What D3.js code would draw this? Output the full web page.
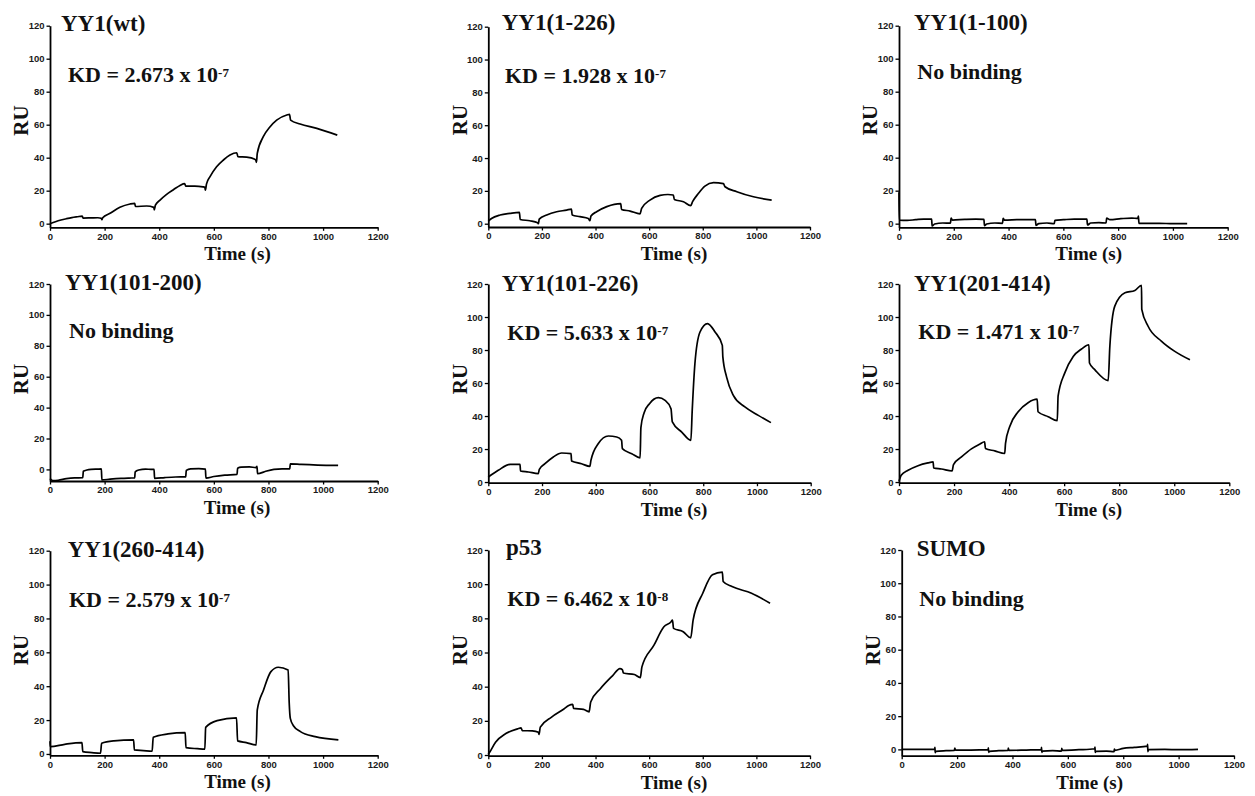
<!DOCTYPE html>
<html>
<head>
<meta charset="utf-8">
<script src="https://cdn.jsdelivr.net/npm/d3@7"></script>
<style>
body { margin: 0; background: #fff; }
</style>
</head>
<body>
<script>
var width = 1255,
    height = 796;

var titles = ["YY1(wt)", "YY1(1-226)", "YY1(1-100)", "YY1(101-200)", "YY1(101-226)",
              "YY1(201-414)", "YY1(260-414)", "p53", "SUMO"];
var notes = [["KD = 2.673 x 10", "-7"], ["KD = 1.928 x 10", "-7"], ["No binding"],
             ["No binding"], ["KD = 5.633 x 10", "-7"], ["KD = 1.471 x 10", "-7"],
             ["KD = 2.579 x 10", "-7"], ["KD = 6.462 x 10", "-8"], ["No binding"]];
var yMins = [-2.2, -2, -2.2, -7.5, -0.4, -0.4, -0.8, -0.4, -3.8];
var xTicks = [0, 200, 400, 600, 800, 1000, 1200];
var yTicks = [0, 20, 40, 60, 80, 100, 120];

// sensorgrams: [time (s), RU]
var wt = [[0,0],[20,1.2],[40,2.2],[60,3.0],[80,3.7],[100,4.2],[118,4.6],[121,3.4],[150,3.5],[175,3.6],[188,3.3],[190,2.4],[193,3.6],[220,6.3],[256,9.9],[293,11.9],[310,12.3],[313,10.4],[354,10.7],[380,9.9],[382,8.4],[386,11.2],[403,14.3],[427,17.8],[452,20.6],[476,23.2],[493,24.3],[497,22.8],[530,22.8],[560,22.3],[567,22],[569,20.3],[573,24],[586,28.5],[610,34.5],[635,38.6],[659,41.6],[684,43],[688,40.6],[720,40.3],[750,39],[754,38.3],[756,37.2],[759,42.6],[781,52.7],[806,58.8],[830,62.8],[867,65.9],[877,66.3],[881,62.8],[916,60.4],[977,57.8],[1052,53.7]];
var yy1_1_226 = [[0,1.6],[12,3.2],[44,5.3],[81,6.3],[116,6.9],[119,2.6],[155,1.8],[184,0.6],[187,0],[190,2.8],[218,5.3],[255,7.3],[292,8.3],[310,8.9],[313,5.3],[342,4.3],[373,3.2],[379,1.8],[383,4.7],[404,7.3],[442,10.4],[470,11.8],[494,12.2],[497,8.7],[529,7.7],[566,6.0],[572,9.3],[603,14.4],[641,17.3],[670,17.8],[690,17.5],[694,14.8],[728,13.4],[755,11.0],[762,13.4],[784,18.5],[808,22.9],[840,25],[877,24.4],[883,22.5],[927,19.5],[989,16.4],[1057,14.4]];
var yy1_1_100 = [[0,19],[1,2.2],[30,2.0],[60,2.4],[90,2.8],[119,2.7],[121,-1.4],[130,-0.2],[160,0.4],[188,0.3],[190,3.4],[195,2.2],[240,2.6],[280,2.8],[310,2.6],[312,-1.2],[320,-0.2],[350,0.4],[378,0.2],[380,3.2],[385,2.2],[430,2.4],[470,2.5],[498,2.5],[500,-1.0],[510,0.0],[540,0.4],[567,0.0],[569,2.0],[600,2.4],[640,2.8],[686,2.8],[688,-0.8],[700,0.4],[730,0.6],[756,0.4],[758,3.4],[770,2.4],[810,3.0],[850,3.4],[872,3.2],[874,4.6],[876,0.2],[950,0.2],[1000,0.0],[1052,0.0]];
var yy1_101_200 = [[0,-6.0],[10,-7.2],[30,-7.0],[60,-6.0],[90,-5.5],[120,-5.4],[122,-1.2],[135,-0.4],[150,0.0],[175,0.2],[188,0.3],[190,-6.8],[220,-6.3],[260,-5.8],[290,-5.6],[310,-5.5],[312,-1.6],[325,-0.4],[350,0.2],[370,0.0],[381,0.0],[383,-5.8],[420,-5.3],[460,-4.9],[497,-4.8],[499,-0.6],[515,0.4],[545,0.5],[569,0.2],[571,-5.6],[600,-4.6],[640,-3.7],[685,-3.2],[687,0.8],[700,1.5],[730,1.6],[755,1.2],[758,2.0],[760,-2.8],[790,-1.2],[820,0.0],[850,0.4],[878,0.4],[880,3.6],[920,3.2],[980,2.8],[1055,2.6]];
var yy1_101_226 = [[0,3.0],[37,7.1],[81,10.7],[118,10.7],[120,6.7],[149,6.1],[186,5.1],[190,7.7],[211,11.1],[242,15.2],[273,17.6],[308,17.2],[310,12.7],[347,11.1],[378,9.5],[382,13.1],[409,23.2],[447,27.9],[478,27.3],[496,25.3],[499,20.2],[534,17.2],[565,14.7],[568,33],[580,42],[600,47.5],[633,51.1],[658,49.5],[680,44.4],[685,36.4],[720,30.3],[754,25.3],[759,43.4],[769,71.7],[788,90.9],[816,96.0],[844,90.9],[871,82.8],[873,75.8],[887,63.6],[912,52.5],[955,45.5],[1005,40.4],[1052,36.0]];
var yy1_201_414 = [[0,0.4],[8,4.1],[33,7.1],[69,9.9],[105,11.6],[124,12.2],[126,8.5],[154,7.9],[193,6.7],[198,10.6],[227,15.2],[263,20.1],[293,22.9],[311,24.4],[314,20.3],[348,18.9],[384,17.3],[387,23.4],[402,33.5],[433,42.6],[469,48.1],[502,50.2],[505,42.6],[542,39.6],[575,37.2],[578,52],[602,66.0],[633,76.1],[663,80.6],[690,83.2],[692,72.1],[712,68.0],[760,61.5],[766,82.2],[784,106.6],[821,114.7],[857,116.1],[881,119.2],[882,104.6],[905,94.4],[954,85.3],[1002,79.2],[1057,74.1]];
var yy1_260_414 = [[0,7.5],[1,4.3],[54,5.7],[117,6.7],[120,1.4],[153,0.8],[185,0.4],[189,6.3],[234,7.7],[306,8.3],[309,2.4],[342,2.0],[374,1.6],[378,9.8],[432,11.8],[495,12.6],[498,3.7],[540,3.1],[567,2.8],[570,15.7],[612,19.7],[683,21.3],[687,7.7],[719,6.7],[755,5.3],[759,26.0],[782,37.8],[809,48.6],[836,51.2],[872,49.6],[876,30],[880,21],[892,16.5],[917,13.2],[971,10.2],[1056,8.3]];
var p53 = [[0,0.4],[5,1.6],[27,7.5],[64,12.4],[109,15.3],[122,15.9],[127,14.3],[164,14.1],[187,13.3],[189,12.0],[194,16.3],[236,22.2],[282,26.9],[300,29.0],[315,29.6],[318,27.3],[355,26.7],[376,25.3],[382,31.0],[418,38.8],[464,46.5],[491,50.6],[500,50.0],[504,48.0],[545,47.1],[567,45.3],[573,51.6],[618,64.3],[655,75.1],[682,78.0],[687,79.0],[691,74.1],[727,72.2],[755,68.6],[764,79.0],[800,94.7],[836,105.5],[873,107.1],[876,101.6],[909,98.6],[982,94.7],[1051,88.8]];
var sumo = [[0,0],[60,0],[119,0],[120,1.2],[121,-2.0],[123,-1.2],[160,-0.8],[190,-0.6],[192,0.8],[194,-0.4],[250,-0.4],[312,-0.2],[313,1.0],[314,-1.8],[316,-1.2],[350,-0.8],[384,-0.6],[385,0.8],[387,-0.6],[450,-0.4],[504,-0.2],[505,1.2],[506,-1.8],[508,-1.0],[545,-0.8],[577,-1.0],[578,0.6],[580,-0.6],[640,-0.2],[697,0.4],[698,1.4],[699,-1.8],[701,-1.2],[740,-1.0],[767,-1.4],[768,0.2],[770,-0.6],[800,0.6],[840,1.2],[887,2.0],[888,3.0],[889,-1.4],[891,-0.2],[950,0.0],[1000,-0.2],[1070,0.0]];

var series = [wt, yy1_1_226, yy1_1_100, yy1_101_200, yy1_101_226,
              yy1_201_414, yy1_260_414, p53, sumo];

// plot box per panel: l/r = x of 0 and 1200 s, t = y of 120 RU, b = x-axis line
// tx,ty title anchor; nx,ny note anchor; ry centre of "RU"; lx centre of "Time (s)"
var layout = [
  {l: 50,    r: 377.7,  t: 25.7,  b: 227.3, tx: 61,    ty: 30.5,  nx: 68,    ny: 82.3,  ry: 120.5, lx: 237.5},
  {l: 488.3, r: 810,    t: 26.7,  b: 227,   tx: 501.7, ty: 29.5,  nx: 505,   ny: 82.7,  ry: 120,   lx: 674},
  {l: 899,   r: 1227.7, t: 25.7,  b: 227.3, tx: 914,   ty: 30,    nx: 917.3, ny: 79.3,  ry: 120,   lx: 1088.7},
  {l: 50,    r: 377.7,  t: 284,   b: 481,   tx: 65,    ty: 290,   nx: 69,    ny: 338.3, ry: 379,   lx: 237},
  {l: 488.3, r: 810.7,  t: 284,   b: 482.7, tx: 501.7, ty: 291,   nx: 507.3, ny: 340,   ry: 379,   lx: 674},
  {l: 899,   r: 1229.3, t: 284,   b: 482.7, tx: 914,   ty: 291,   nx: 918.3, ny: 339,   ry: 379,   lx: 1088.7},
  {l: 50,    r: 377.7,  t: 550.7, b: 755.3, tx: 67.7,  ty: 557,   nx: 69,    ny: 606.7, ry: 650,   lx: 237.5},
  {l: 488.3, r: 810,    t: 550,   b: 755.7, tx: 506,   ty: 555,   nx: 507.3, ny: 606,   ry: 650,   lx: 674},
  {l: 901.7, r: 1234,   t: 550,   b: 755.7, tx: 916.7, ty: 556,   nx: 919.3, ny: 606,   ry: 650,   lx: 1089.7}
];

var serif = "'Liberation Serif', 'Times New Roman', serif",
    sans = "'Liberation Sans', Arial, sans-serif";

var svg = d3.select("body").append("svg")
    .attr("width", width)
    .attr("height", height)
    .style("background", "#fff");

layout.forEach(function(p, i) {
  var x = d3.scaleLinear().domain([0, 1200]).range([p.l, p.r]),
      y = d3.scaleLinear().domain([yMins[i], 120]).range([p.b, p.t]);

  var g = svg.append("g").attr("class", "panel");

  var xAxis = g.append("g")
      .attr("transform", "translate(0," + p.b + ")")
      .call(d3.axisBottom(x).tickValues(xTicks).tickFormat(d3.format("d"))
        .tickSize(3.5).tickSizeOuter(0).tickPadding(2));
  var yAxis = g.append("g")
      .attr("transform", "translate(" + p.l + ",0)")
      .call(d3.axisLeft(y).tickValues(yTicks).tickFormat(d3.format("d"))
        .tickSize(3.5).tickSizeOuter(0).tickPadding(2));

  [xAxis, yAxis].forEach(function(a) {
    a.attr("font-family", sans).attr("font-size", 9.5).attr("font-weight", "bold");
    a.select(".domain").attr("stroke", "#000").attr("stroke-width", 1.8);
    a.selectAll(".tick line").attr("stroke", "#000").attr("stroke-width", 1.3);
    a.selectAll(".tick text").attr("fill", "#1a1a1a");
  });

  var line = d3.line()
      .x(function(d) { return x(d[0]); })
      .y(function(d) { return y(d[1]); })
      .curve(d3.curveMonotoneX);

  g.append("path")
      .datum(series[i])
      .attr("d", line)
      .attr("fill", "none")
      .attr("stroke", "#000")
      .attr("stroke-width", 1.7)
      .attr("stroke-linejoin", "round");

  g.append("text")
      .attr("x", p.tx)
      .attr("y", p.ty)
      .attr("font-family", serif)
      .attr("font-weight", "bold")
      .attr("font-size", 23)
      .attr("fill", "#111")
      .text(titles[i]);

  var note = g.append("text")
      .attr("x", p.nx)
      .attr("y", p.ny)
      .attr("font-family", serif)
      .attr("font-weight", "bold")
      .attr("font-size", 22)
      .attr("fill", "#111")
      .text(notes[i][0]);
  if (notes[i][1]) {
    note.append("tspan")
        .attr("dy", -5)
        .attr("font-size", 13)
        .text(notes[i][1]);
  }

  g.append("text")
      .attr("transform", "translate(" + (p.l - 29) + "," + p.ry + ") rotate(-90)")
      .attr("text-anchor", "middle")
      .attr("dy", "0.35em")
      .attr("font-family", serif)
      .attr("font-weight", "bold")
      .attr("font-size", 21)
      .attr("fill", "#111")
      .text("RU");

  g.append("text")
      .attr("x", p.lx)
      .attr("y", p.b + 33)
      .attr("text-anchor", "middle")
      .attr("font-family", serif)
      .attr("font-weight", "bold")
      .attr("font-size", 19)
      .attr("fill", "#111")
      .text("Time (s)");
});
</script>
</body>
</html>
